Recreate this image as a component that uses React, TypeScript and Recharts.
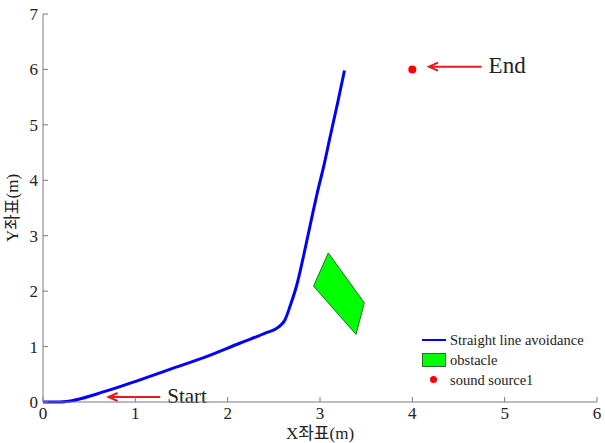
import React from 'react';
import {
  ComposedChart,
  Line,
  Scatter,
  XAxis,
  YAxis,
  ReferenceLine,
} from 'recharts';

// path of the robot (straight line avoidance)
const pathX = [0, 0.18, 0.69, 1.05, 1.41, 1.77, 2.13, 2.42, 2.55, 2.62, 2.68, 2.75, 2.82, 2.905, 2.97, 3.04, 3.11, 3.19, 3.265];
const pathY = [0, 0, 0.2, 0.4, 0.61, 0.82, 1.06, 1.25, 1.35, 1.48, 1.75, 2.12, 2.62, 3.28, 3.77, 4.25, 4.79, 5.39, 5.98];

// obstacle polygon corners
const obstacleX = [3.09, 2.93, 3.39, 3.48];
const obstacleY = [2.69, 2.09, 1.22, 1.79];

const sourceX = [4];
const sourceY = [6];

const xTicks = [0, 1, 2, 3, 4, 5, 6];
const yTicks = [0, 1, 2, 3, 4, 5, 6, 7];

// annotation arrows: tail -> tip
const startArrow = { label: 'Start', from: [1.27, 0.09], to: [0.71, 0.09], size: 21 };
const endArrow = { label: 'End', from: [4.75, 6.05], to: [4.18, 6.05], size: 23 };

const legendItems = ['Straight line avoidance', 'obstacle', 'sound source1'];

const pathData = pathX.map((x, i) => ({ x, y: pathY[i] }));
const obstacleData = obstacleX.map((x, i) => ({ x, y: obstacleY[i] }));
const sourceData = sourceX.map((x, i) => ({ x, y: sourceY[i] }));

const serif = "'Liberation Serif', 'Times New Roman', serif";
const labelFont = "'Liberation Serif', 'Noto Sans CJK KR', serif";
const axisColor = '#7a7a7a';
const textColor = '#222';

const XTick = (props: any) => {
  const { x, y, payload } = props;
  return (
    <g>
      <line x1={x} y1={y} x2={x} y2={y - 5} stroke={axisColor} />
      <text x={x} y={y + 17} textAnchor="middle" fontSize={17} fontFamily={serif} fill={textColor}>
        {payload.value}
      </text>
    </g>
  );
};

const YTick = (props: any) => {
  const { x, y, payload } = props;
  return (
    <g>
      <line x1={x} y1={y} x2={x + 5} y2={y} stroke={axisColor} />
      <text x={x - 5} y={y + 6} textAnchor="end" fontSize={17} fontFamily={serif} fill={textColor}>
        {payload.value}
      </text>
    </g>
  );
};

const arrowShape = (label: string, size: number) => (p: any) => {
  const { x1, y1, x2, y2 } = p;
  return (
    <g>
      <line x1={x1} y1={y1} x2={x2 + 2} y2={y2} stroke="#e41a1c" strokeWidth={2} />
      <path d={`M${x2 + 9},${y2 - 4} L${x2},${y2} L${x2 + 9},${y2 + 4}`} stroke="#e41a1c" strokeWidth={2} fill="none" />
      <text x={x1 + 7} y={y1 + 6} fontSize={size} fontFamily={serif} fill={textColor}>
        {label}
      </text>
    </g>
  );
};

const Legend = () => (
  <div
    style={{
      position: 'absolute',
      left: 420,
      top: 330,
      fontFamily: serif,
      fontSize: 14.5,
      color: textColor,
      lineHeight: '20px',
    }}
  >
    {legendItems.map((name, i) => (
      <div key={name} style={{ display: 'flex', alignItems: 'center', height: 20 }}>
        <div style={{ width: 27, height: 20, position: 'relative', marginRight: 3 }}>
          {i === 0 && <div style={{ position: 'absolute', left: 2, top: 9, width: 24, height: 2, background: '#0000ff' }} />}
          {i === 1 && (
            <div style={{ position: 'absolute', left: 2, top: 3, width: 24, height: 14, background: '#00ff00', border: '1px solid #2a6a2a', boxSizing: 'border-box' }} />
          )}
          {i === 2 && <div style={{ position: 'absolute', left: 10, top: 6, width: 7, height: 7, borderRadius: 4, background: '#ff0000' }} />}
        </div>
        <span>{name}</span>
      </div>
    ))}
  </div>
);

export default function App() {
  return (
    <div style={{ position: 'absolute', left: 0, top: 0, width: 605, height: 443, background: '#fff' }}>
      <ComposedChart width={605} height={443} margin={{ top: 14, right: 8, left: 0, bottom: 0 }}>
        <XAxis
          type="number"
          dataKey="x"
          domain={[0, 6]}
          ticks={xTicks}
          height={41}
          stroke={axisColor}
          tickLine={false}
          tickSize={0}
          tickMargin={0}
          tick={<XTick />}
          interval={0}
          label={{
            content: (p: any) => (
              <text
                x={p.viewBox.x + p.viewBox.width / 2}
                y={p.viewBox.y + 37}
                textAnchor="middle"
                fontSize={17}
                fontFamily={labelFont}
                fill={textColor}
              >
                X좌표(m)
              </text>
            ),
          }}
        />
        <YAxis
          type="number"
          dataKey="y"
          domain={[0, 7]}
          ticks={yTicks}
          width={43}
          stroke={axisColor}
          tickLine={false}
          tickSize={0}
          tickMargin={0}
          tick={<YTick />}
          interval={0}
          label={{
            content: (p: any) => {
              const cx = 18;
              const cy = p.viewBox.y + p.viewBox.height / 2;
              return (
                <text
                  x={cx}
                  y={cy}
                  transform={`rotate(-90 ${cx} ${cy})`}
                  textAnchor="middle"
                  fontSize={17}
                  fontFamily={labelFont}
                  fill={textColor}
                >
                  Y좌표(m)
                </text>
              );
            },
          }}
        />
        <Scatter
          data={obstacleData}
          fill="#00ff00"
          isAnimationActive={false}
          shape={() => <g />}
          line={(p: any) => (
            <polygon
              points={p.points.map((pt: any) => `${pt.x},${pt.y}`).join(' ')}
              fill="#00ff00"
              stroke="#2a6a2a"
              strokeWidth={1}
            />
          )}
        />
        <Line
          data={pathData}
          dataKey="y"
          type="monotone"
          stroke="#0000ff"
          strokeWidth={3}
          dot={false}
          activeDot={false}
          isAnimationActive={false}
        />
        <Scatter
          data={sourceData}
          fill="#ff0000"
          isAnimationActive={false}
          shape={(p: any) => <circle cx={p.cx} cy={p.cy} r={4} fill="#ff0000" />}
        />
        {[startArrow, endArrow].map((a) => (
          <ReferenceLine
            key={a.label}
            segment={[
              { x: a.from[0], y: a.from[1] },
              { x: a.to[0], y: a.to[1] },
            ]}
            shape={arrowShape(a.label, a.size)}
          />
        ))}
      </ComposedChart>
      <Legend />
    </div>
  );
}
